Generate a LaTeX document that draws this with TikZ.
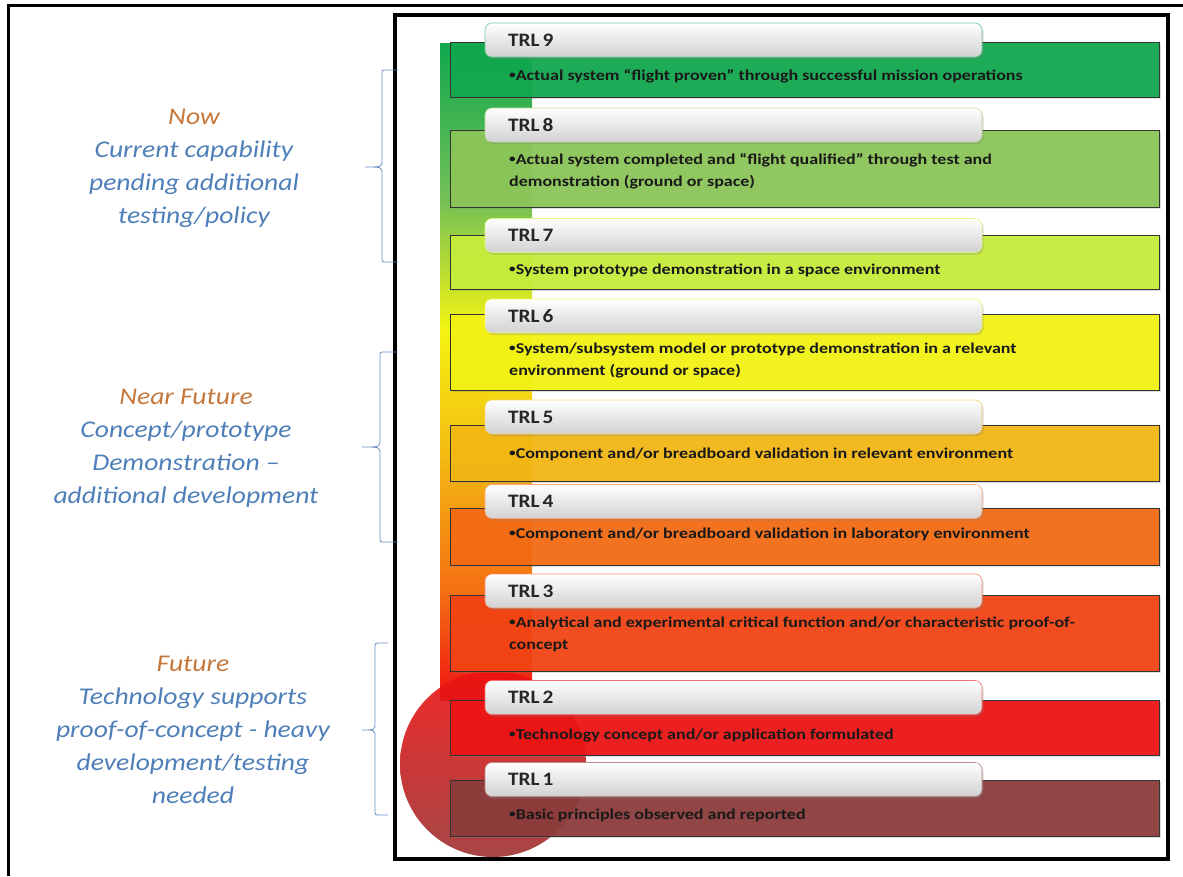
\documentclass[tikz,border=0pt]{standalone}
\usepackage{fontspec}
\setmainfont{Carlito}
\newfontfamily\trlbodyfont[FakeStretch=1.2]{Carlito}
\newfontfamily\trlheadfont[FakeStretch=1.12]{Carlito}
\newfontfamily\sidefont[FakeStretch=1.15]{Carlito}
\newcommand{\trlbullet}{\raisebox{1.5pt}{\fontsize{11}{11}\selectfont •}}
\newcommand{\tightspace}{\spaceskip 3pt\relax}
\usetikzlibrary{shadows}

\definecolor{trlix}{HTML}{10A84E}
\definecolor{trlviii}{HTML}{8CC658}
\definecolor{trlvii}{HTML}{C6EF3A}
\definecolor{trlvi}{HTML}{F4F412}
\definecolor{trlv}{HTML}{F4B812}
\definecolor{trliv}{HTML}{F46A12}
\definecolor{trliii}{HTML}{F44212}
\definecolor{trlii}{HTML}{EE1212}
\definecolor{trli}{HTML}{8C3A3A}
\definecolor{labelblue}{HTML}{4F7FB8}
\definecolor{labelorange}{HTML}{C5783C}
\definecolor{bracecol}{HTML}{6A8BC0}

\tikzset{
  trlbox/.style={draw=black!80, line width=0.8pt, minimum width=709pt,
    inner sep=0pt, fill opacity=0.93,
    drop shadow={shadow xshift=2pt, shadow yshift=-2pt, opacity=0.25}},
  trlhead/.style={draw=#1!60, line width=0.6pt, rounded corners=7pt,
    top color=white, bottom color=black!18, minimum height=34pt,
    text width=451pt, inner xsep=23pt, inner ysep=0pt, align=left,
    font=\trlheadfont\fontsize{19}{22}\selectfont\bfseries,
    execute at begin node=\tightspace, text=black!85,
    drop shadow={shadow xshift=1.5pt, shadow yshift=-2pt, opacity=0.3}},
  trltext/.style={anchor=west, inner sep=0pt, align=left,
    font=\trlbodyfont\fontsize{15}{22}\selectfont\bfseries, text=black!90},
  sidelabel/.style={align=center, text=labelblue,
    font=\sidefont\fontsize{24}{33}\selectfont\itshape},
  sidebrace/.style={draw=bracecol, line width=0.8pt}
}

\begin{document}
\begin{tikzpicture}[x=1pt, y=-1pt]
  \useasboundingbox (0,0) rectangle (1183,876);

  % frames
  \draw[line width=3pt] (8,876) -- (8,5) -- (1183,5);
  \draw[line width=3.5pt] (395,15) rectangle (1168,859);

  % colour bar behind the levels
  \foreach \ya/\yb/\ca/\cb in {43/200/trlix/trlviii!80!trlix,
      199/330/trlviii!80!trlix/trlvi, 329/460/trlvi/trlv,
      459/600/trlv/trliv, 599/700/trliv/trlii}
    \shade[top color=\ca, bottom color=\cb] (440,\ya) rectangle (532,\yb);

  \shade[top color=trlii, bottom color=trli!85!red, opacity=0.9]
    (493,764) circle (93);

  % levels
  \node[trlbox, fill=trlix,   minimum height=55pt] (box9) at (804.5,69.5) {};
  \node[trlbox, fill=trlviii, minimum height=77pt] (box8) at (804.5,168.5) {};
  \node[trlbox, fill=trlvii,  minimum height=54pt] (box7) at (804.5,262) {};
  \node[trlbox, fill=trlvi,   minimum height=76pt] (box6) at (804.5,352) {};
  \node[trlbox, fill=trlv,    minimum height=56pt] (box5) at (804.5,453) {};
  \node[trlbox, fill=trliv,   minimum height=57pt] (box4) at (804.5,536.5) {};
  \node[trlbox, fill=trliii,  minimum height=76pt] (box3) at (804.5,633) {};
  \node[trlbox, fill=trlii,   minimum height=55pt] (box2) at (804.5,727.5) {};
  \node[trlbox, fill=trli,    minimum height=56pt] (box1) at (804.5,808) {};

  \node[trlhead=trlix]   (head9) at (733.5,40)    {TRL 9};
  \node[trlhead=trlviii] (head8) at (733.5,125)   {TRL 8};
  \node[trlhead=trlvii]  (head7) at (733.5,235.5) {TRL 7};
  \node[trlhead=trlvi]   (head6) at (733.5,316)   {TRL 6};
  \node[trlhead=trlv]    (head5) at (733.5,417)   {TRL 5};
  \node[trlhead=trliv]   (head4) at (733.5,501.5) {TRL 4};
  \node[trlhead=trliii]  (head3) at (733.5,591)   {TRL 3};
  \node[trlhead=trlii]   (head2) at (733.5,697.5) {TRL 2};
  \node[trlhead=trli]    (head1) at (733.5,779.5) {TRL 1};

  \node[trltext] (text9) at (509,76)
    {\trlbullet Actual system “flight proven” through successful mission operations};
  \node[trltext] (text8) at (509,171)
    {\trlbullet Actual system completed and “flight qualified” through test and\\
     demonstration (ground or space)};
  \node[trltext] (text7) at (509,270)
    {\trlbullet System prototype demonstration in a space environment};
  \node[trltext] (text6) at (509,360)
    {\trlbullet System/subsystem model or prototype demonstration in a relevant\\
     environment (ground or space)};
  \node[trltext] (text5) at (509,454)
    {\trlbullet Component and/or breadboard validation in relevant environment};
  \node[trltext] (text4) at (509,534)
    {\trlbullet Component and/or breadboard validation in laboratory environment};
  \node[trltext] (text3) at (509,634)
    {\trlbullet Analytical and experimental critical function and/or characteristic proof-of-\\
     concept};
  \node[trltext] (text2) at (509,735)
    {\trlbullet Technology concept and/or application formulated};
  \node[trltext] (text1) at (509,815)
    {\trlbullet Basic principles observed and reported};

  % braces and what they stand for
  \coordinate (now top) at (398,70);
  \coordinate (now tip) at (365,167);
  \coordinate (now bot) at (398,262);
  \coordinate (near top) at (398,352);
  \coordinate (near tip) at (362,447);
  \coordinate (near bot) at (398,542);
  \coordinate (far top) at (388,643);
  \coordinate (far tip) at (362,730);
  \coordinate (far bot) at (388,815);

  \draw[sidebrace] (now top) -- (387,70) .. controls (382,70) .. (382,75)
    -- (382,160) .. controls (382,167) .. (now tip)
    .. controls (382,167) .. (382,174) -- (382,257)
    .. controls (382,262) .. (387,262) -- (now bot);
  \draw[sidebrace] (near top) -- (385,352) .. controls (380,352) .. (380,357)
    -- (380,440) .. controls (380,447) .. (near tip)
    .. controls (380,447) .. (380,454) -- (380,537)
    .. controls (380,542) .. (385,542) -- (near bot);
  \draw[sidebrace] (far top) -- (380,643) .. controls (375,643) .. (375,648)
    -- (375,723) .. controls (375,730) .. (far tip)
    .. controls (375,730) .. (375,737) -- (375,810)
    .. controls (375,815) .. (380,815) -- (far bot);

  \node[sidelabel] (now) at (194,168)
    {\textcolor{labelorange}{Now}\\ Current capability\\ pending additional\\ testing/policy};
  \node[sidelabel] (nearfuture) at (186,448)
    {\textcolor{labelorange}{Near Future}\\ Concept/prototype\\ Demonstration –\\ additional development};
  \node[sidelabel] (future) at (193,730)
    {\textcolor{labelorange}{Future}\\ Technology supports\\ proof-of-concept - heavy\\ development/testing\\ needed};

\end{tikzpicture}
\end{document}
